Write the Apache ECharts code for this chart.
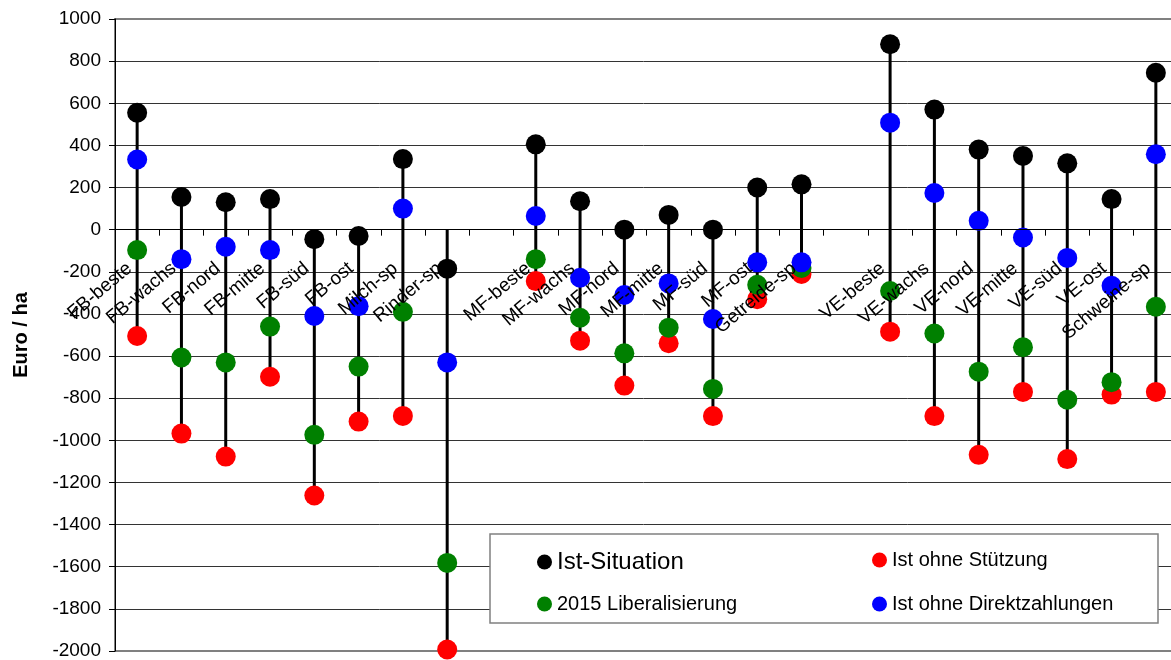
<!DOCTYPE html>
<html>
<head>
<meta charset="utf-8">
<style>
  html, body { margin: 0; padding: 0; background: #fff; }
  #chart { width: 1171px; height: 660px; }
</style>
<script src="https://cdn.jsdelivr.net/npm/echarts@6/dist/echarts.min.js"></script>
</head>
<body>
<div id="chart"></div>
<script>
// Farm types (blank entries separate the groups)
const categories = ['FB-beste', 'FB-wachs', 'FB-nord', 'FB-mitte', 'FB-süd', 'FB-ost', 'Milch-sp', 'Rinder-sp', '',
  'MF-beste', 'MF-wachs', 'MF-nord', 'MF-mitte', 'MF-süd', 'MF-ost', 'Getreide-sp', '',
  'VE-beste', 'VE-wachs', 'VE-nord', 'VE-mitte', 'VE-süd', 'VE-ost', 'Schweine-sp'];

// Euro / ha per scenario
const istSituation = [555, 155, 130, 145, -45, -30, 335, -185, null,
  405, 135, 0, 70, 0, 200, 215, null,
  880, 570, 380, 350, 315, 145, 745];
const ohneStuetzung = [-505, -968, -1077, -698, -1262, -911, -884, -1993, null,
  -244, -527, -740, -539, -885, -330, -210, null,
  -484, -885, -1069, -770, -1089, -783, -770];
const liberalisierung = [-97, -607, -630, -460, -974, -650, -390, -1582, null,
  -140, -418, -587, -465, -756, -262, -182, null,
  -291, -493, -674, -558, -807, -724, -366];
const ohneDirektzahlungen = [333, -140, -81, -97, -410, -363, 100, -630, null,
  65, -228, -310, -255, -424, -155, -155, null,
  508, 174, 42, -37, -134, -266, 358];

const yTicks = { min: -2000, max: 1000, interval: 200 };

const FONT = "'Liberation Sans', Arial, sans-serif";
const GRID = { left: 115, top: 19, width: 1063, height: 632 };

// the category axis sits on the zero line: shift it up from the plot bottom
const zeroOffset = -GRID.height * (0 - yTicks.min) / (yTicks.max - yTicks.min);

// vertical range line per farm type: from the highest value (or zero) to the lowest
const rangeData = [];
categories.forEach((c, i) => {
  const vals = [istSituation[i], ohneStuetzung[i], liberalisierung[i], ohneDirektzahlungen[i]]
    .filter(v => v !== null);
  if (!vals.length) return;
  rangeData.push([i, Math.max(0, ...vals), Math.min(...vals)]);
});

const chart = echarts.init(document.getElementById('chart'), null, { renderer: 'canvas' });

function legendItem(name, left, top, fontSize) {
  return {
    data: [{ name: name, icon: 'circle' }],
    left: left, top: top, padding: 0,
    itemWidth: 15, itemHeight: 15,
    textStyle: { fontFamily: FONT, fontSize: fontSize, color: '#000' },
    selectedMode: false
  };
}

chart.setOption({
  animation: false,
  backgroundColor: '#fff',
  textStyle: { fontFamily: FONT },
  grid: {
    left: GRID.left, top: GRID.top, width: GRID.width, height: GRID.height,
    outerBoundsMode: 'none', containLabel: false,
    show: true, borderColor: '#808080', borderWidth: 2, backgroundColor: 'transparent'
  },
  legend: [
    legendItem('Ist-Situation', 537, 550, 24),
    legendItem('2015 Liberalisierung', 537, 594, 20),
    legendItem('Ist ohne Stützung', 872, 550, 20),
    legendItem('Ist ohne Direktzahlungen', 872, 594, 20)
  ],
  graphic: [{
    type: 'rect', z: 3,
    shape: { x: 490, y: 534, width: 668, height: 89 },
    style: { fill: '#fff', stroke: '#808080', lineWidth: 1.5 }
  }],
  xAxis: {
    type: 'category',
    data: categories,
    position: 'bottom',
    offset: zeroOffset,
    z: 3,
    axisLine: { onZero: false, lineStyle: { color: '#000', width: 1 } },
    axisTick: { show: true, interval: 0, length: 6, lineStyle: { color: '#000' } },
    axisLabel: {
      interval: 0, rotate: 40, fontSize: 19, color: '#000', fontFamily: FONT,
      margin: 30, padding: [0, 10, 0, 0], hideOverlap: false
    },
    splitLine: { show: false }
  },
  yAxis: {
    type: 'value',
    min: yTicks.min, max: yTicks.max, interval: yTicks.interval,
    name: 'Euro / ha',
    nameLocation: 'middle',
    nameGap: 84,
    nameTextStyle: { fontFamily: FONT, fontSize: 20, fontWeight: 'bold', color: '#000' },
    axisLine: { show: true, lineStyle: { color: '#000', width: 1 } },
    axisTick: { show: true, length: 6, lineStyle: { color: '#000' } },
    axisLabel: { fontSize: 19, color: '#000', fontFamily: FONT, margin: 14, formatter: v => String(v) },
    splitLine: {
      show: true,
      lineStyle: {
        width: 1,
        color: ['transparent', '#333', '#333', '#333', '#333', '#333', '#333', '#333',
          '#333', '#333', '#333', '#333', '#333', '#333', '#333', 'transparent']
      }
    }
  },
  series: [
    {
      type: 'custom',
      name: 'range',
      z: 1,
      silent: true,
      data: rangeData,
      encode: { x: 0, y: [1, 2] },
      renderItem: function (params, api) {
        const p1 = api.coord([api.value(0), api.value(1)]);
        const p2 = api.coord([api.value(0), api.value(2)]);
        return {
          type: 'line',
          shape: { x1: p1[0], y1: p1[1], x2: p2[0], y2: p2[1] },
          style: { stroke: '#000', lineWidth: 3 }
        };
      }
    },
    { type: 'scatter', name: 'Ist ohne Stützung', data: ohneStuetzung, symbol: 'circle', symbolSize: 20, z: 2,
      itemStyle: { color: '#ff0000', opacity: 1 } },
    { type: 'scatter', name: '2015 Liberalisierung', data: liberalisierung, symbol: 'circle', symbolSize: 20, z: 2,
      itemStyle: { color: '#008000', opacity: 1 } },
    { type: 'scatter', name: 'Ist ohne Direktzahlungen', data: ohneDirektzahlungen, symbol: 'circle', symbolSize: 20, z: 2,
      itemStyle: { color: '#0000ff', opacity: 1 } },
    { type: 'scatter', name: 'Ist-Situation', data: istSituation, symbol: 'circle', symbolSize: 20, z: 2,
      itemStyle: { color: '#000000', opacity: 1 } }
  ]
});
</script>
</body>
</html>
